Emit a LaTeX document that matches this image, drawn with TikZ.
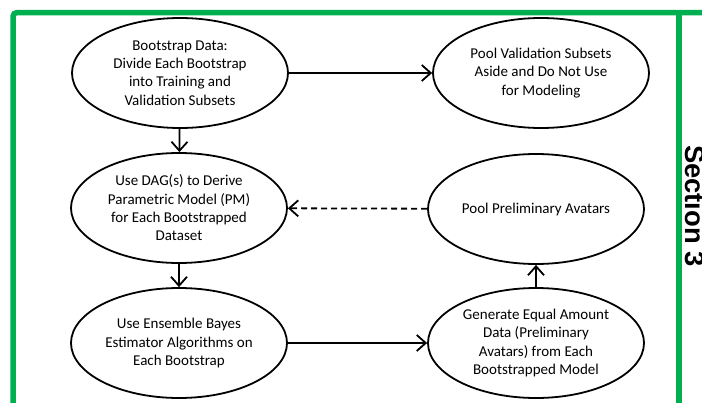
\documentclass[tikz,border=0pt]{standalone}
\usepackage{fontspec}
\setmainfont{Carlito}
\newfontfamily\secfont{Liberation Sans}
\usetikzlibrary{arrows.meta,shapes.geometric}
\definecolor{sgreen}{HTML}{00B050}
\begin{document}
\begin{tikzpicture}[x=1pt,y=-1pt,
  ell/.style={draw, line width=1.8pt, ellipse, minimum width=216pt, minimum height=110pt, inner sep=0pt,
    align=center, font=\fontsize{15}{18.3}\selectfont},
  arr/.style={line width=1.8pt, -{Straight Barb[length=9pt,width=16pt,line width=1.8pt]}},
  frame/.style={draw=sgreen, line width=5.5pt}]
\useasboundingbox (0,0) rectangle (702,402);
\begin{scope}
\clip (0,0) rectangle (702,402);
\draw[frame, rounded corners=4pt] (13,420) -- (13,12.5) -- (720,12.5);
\draw[frame] (679,12.5) -- (679,420);
\node[rotate=-90, font=\secfont\bfseries\fontsize{27.4}{30}\selectfont, inner sep=0pt] (sec) at (695,206) {Section 3};
\end{scope}
\node[ell] (e1) at (180,73) {Bootstrap Data:\\Divide Each Bootstrap\\into Training and\\Validation Subsets};
\node[ell] (e2) at (541,73) {Pool Validation Subsets\\Aside and Do Not Use\\for Modeling};
\node[ell] (e3) at (179,208) {Use DAG(s) to Derive\\Parametric Model (PM)\\for Each Bootstrapped\\Dataset};
\node[ell] (e4) at (536,209) {Pool Preliminary Avatars};
\node[ell] (e5) at (179,343) {Use Ensemble Bayes\\Estimator Algorithms on\\Each Bootstrap};
\node[ell] (e6) at (536,343) {Generate Equal Amount\\Data (Preliminary\\Avatars) from Each\\Bootstrapped Model};
\draw[arr] (e1) -- (e2);
\draw[arr] (e1) -- (e3);
\draw[arr, dashed, dash pattern=on 6pt off 4pt] (e4) -- (e3);
\draw[arr] (e3) -- (e5);
\draw[arr] (e5) -- (e6);
\draw[arr] (e6) -- (e4);
\end{tikzpicture}
\end{document}
